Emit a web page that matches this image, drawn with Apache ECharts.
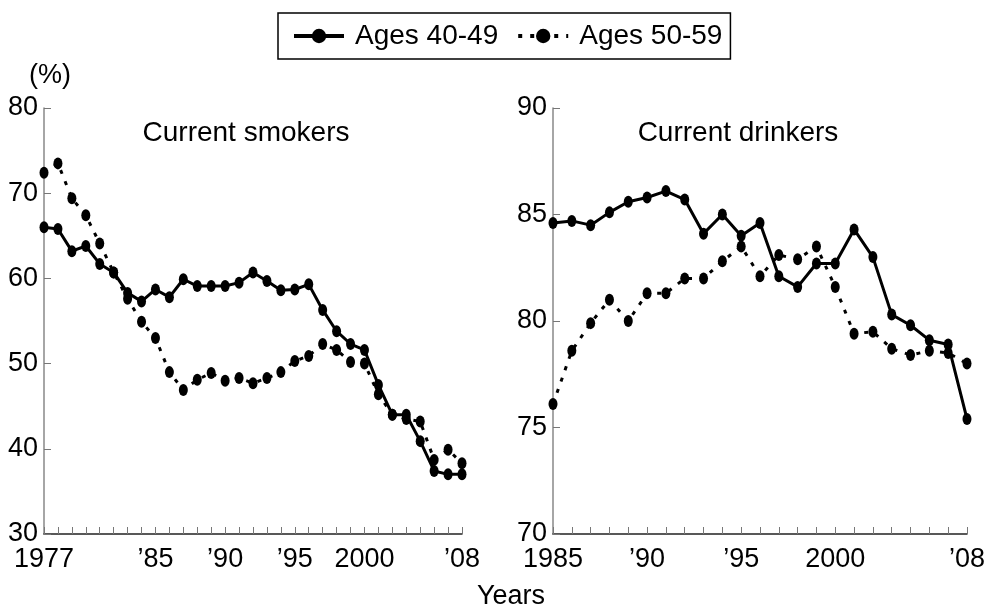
<!DOCTYPE html>
<html>
<head>
<meta charset="utf-8">
<script src="https://cdn.jsdelivr.net/npm/echarts@6/dist/echarts.min.js"></script>
<style>
  html, body { margin: 0; padding: 0; background: #fff; }
  #chart { width: 988px; height: 609px; }
</style>
</head>
<body>
<div id="chart"></div>
<script>
// survey years (no point for 2007)
const smokeYears = ['1977','1978','1979','1980','1981','1982','1983','1984','1985','1986',
  '1987','1988','1989','1990','1991','1992','1993','1994','1995','1996','1997','1998',
  '1999','2000','2001','2002','2003','2004','2005','2006','2008']
const drinkYears = ['1985','1986','1987','1988','1989','1990','1991','1992','1993','1994',
  '1995','1996','1997','1998','1999','2000','2001','2002','2003','2004','2005','2006','2008']

// current smokers (%)
const smoke4049 = [66.0, 65.8, 63.2, 63.8, 61.7, 60.7, 58.3, 57.3, 58.7, 57.8, 59.9, 59.1,
  59.1, 59.1, 59.5, 60.7, 59.7, 58.6, 58.7, 59.3, 56.3, 53.8, 52.3, 51.6, 47.5, 44.0, 44.0,
  40.9, 37.4, 37.0, 37.0]
const smoke5059 = [72.4, 73.5, 69.4, 67.4, 64.1, 60.7, 57.6, 54.9, 53.0, 49.0, 46.9, 48.1,
  48.9, 48.0, 48.3, 47.7, 48.3, 49.0, 50.3, 50.9, 52.3, 51.6, 50.2, 50.0, 46.4, 44.0, 43.5,
  43.2, 38.7, 39.9, 38.3]

// current drinkers (%)
const drink4049 = [84.6, 84.7, 84.5, 85.1, 85.6, 85.8, 86.1, 85.7, 84.1, 85.0, 84.0, 84.6,
  82.1, 81.6, 82.7, 82.7, 84.3, 83.0, 80.3, 79.8, 79.1, 78.9, 75.4]
const drink5059 = [76.1, 78.6, 79.9, 81.0, 80.0, 81.3, 81.3, 82.0, 82.0, 82.8, 83.5, 82.1,
  83.1, 82.9, 83.5, 81.6, 79.4, 79.5, 78.7, 78.4, 78.6, 78.5, 78.0]

// x tick labels that are shown
const smokeTickLabels = { '1977': '1977', '1985': '\u201985', '1990': '\u201990', '1995': '\u201995', '2000': '2000', '2008': '\u201908' }
const drinkTickLabels = { '1985': '1985', '1990': '\u201990', '1995': '\u201995', '2000': '2000', '2008': '\u201908' }

const FONT = '"Liberation Sans", Arial, sans-serif'

function xAxisFor(gridIndex, years, tickLabels) {
  return {
    type: 'category',
    gridIndex,
    data: years,
    boundaryGap: false,
    axisLine: { lineStyle: { color: '#222', width: 1.5 } },
    axisTick: { inside: true, length: 7, interval: 0, lineStyle: { color: '#777' } },
    axisLabel: {
      interval: (i, v) => v in tickLabels,
      formatter: v => tickLabels[v] || '',
      color: '#000', fontSize: 27, fontFamily: FONT, margin: 12
    },
    splitLine: { show: false }
  }
}

function yAxisFor(gridIndex, min, max, interval) {
  return {
    type: 'value',
    gridIndex, min, max, interval,
    axisLine: { show: true, lineStyle: { color: '#888', width: 1.5 } },
    axisTick: { show: true, inside: true, length: 7, lineStyle: { color: '#777' } },
    axisLabel: { color: '#000', fontSize: 27, fontFamily: FONT, margin: 6 },
    splitLine: { show: false }
  }
}

function lineSeries(name, idx, data, dotted) {
  return {
    name,
    type: 'line',
    xAxisIndex: idx,
    yAxisIndex: idx,
    data,
    symbol: 'circle',
    symbolSize: [9, 12],
    showAllSymbol: true,
    itemStyle: { color: '#000' },
    lineStyle: { color: '#000', width: 3, type: dotted ? [4, 8] : 'solid' },
    z: dotted ? 2 : 3,
    animation: false
  }
}

const chart = echarts.init(document.getElementById('chart'))

chart.setOption({
  backgroundColor: '#fff',
  textStyle: { fontFamily: FONT },
  legend: {
    data: ['Ages 40-49', 'Ages 50-59'],
    left: 278, top: 13,
    padding: [9, 8, 9, 14],
    itemGap: 18,
    itemWidth: 50,
    itemHeight: 18,
    borderColor: '#000',
    borderWidth: 1.5,
    lineStyle: { width: 4 },
    textStyle: { fontSize: 28, color: '#000', fontFamily: FONT, padding: [0, 0, 0, 6] }
  },
  grid: [
    { left: 44, right: 526, top: 108, bottom: 75 },
    { left: 553, right: 17, top: 108, bottom: 75 }
  ],
  xAxis: [xAxisFor(0, smokeYears, smokeTickLabels), xAxisFor(1, drinkYears, drinkTickLabels)],
  yAxis: [yAxisFor(0, 30, 80, 10), yAxisFor(1, 70, 90, 5)],
  series: [
    lineSeries('Ages 50-59', 0, smoke5059, true),
    lineSeries('Ages 40-49', 0, smoke4049, false),
    lineSeries('Ages 50-59', 1, drink5059, true),
    lineSeries('Ages 40-49', 1, drink4049, false)
  ],
  graphic: [
    { type: 'text', left: 29, top: 62, style: { text: '(%)', fontSize: 27, fontFamily: FONT, fill: '#000' } },
    { type: 'text', x: 246, y: 133, style: { text: 'Current smokers', fontSize: 28, fontFamily: FONT, fill: '#000', align: 'center', verticalAlign: 'middle' } },
    { type: 'text', x: 738, y: 133, style: { text: 'Current drinkers', fontSize: 28, fontFamily: FONT, fill: '#000', align: 'center', verticalAlign: 'middle' } },
    { type: 'text', x: 511, y: 597, style: { text: 'Years', fontSize: 27, fontFamily: FONT, fill: '#000', align: 'center', verticalAlign: 'middle' } }
  ]
})
</script>
</body>
</html>
